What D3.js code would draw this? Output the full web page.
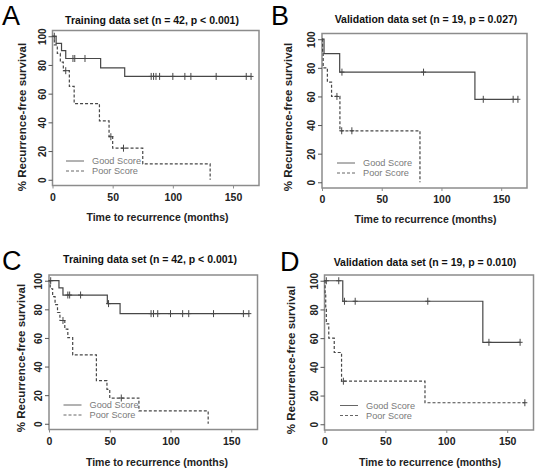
<!DOCTYPE html>
<html><head><meta charset="utf-8">
<script src="https://cdn.jsdelivr.net/npm/d3@7"></script>
<style>body{margin:0;background:#fff} svg{display:block}</style>
</head><body>
<svg id="c" width="535" height="472"></svg>
<script>
// ---------- data ----------
const xTicks = [0, 50, 100, 150];
const yTicks = [0, 20, 40, 60, 80, 100];
const xMaxData = 165;
const panelLetters = ["A", "B", "C", "D"];
const panelTitles = [
  "Training data set (n = 42, p < 0.001)",
  "Validation data set (n = 19, p = 0.027)",
  "Training data set (n = 42, p < 0.001)",
  "Validation data set (n = 19, p = 0.010)"
];
const legendLabels = ["Good Score", "Poor Score"];
const xAxisTitle = "Time to recurrence (months)";
const yAxisTitle = "% Recurrence-free survival";

// Panel A
const aGoodTimes = [3, 7.5, 11, 40, 60];
const aGoodSurv  = [95, 90, 84.5, 78, 72];
const aGoodCens  = [1.5, 17, 18.5, 27, 82, 84, 86, 89, 100, 110, 115, 136, 161, 165];
const aPoorTimes = [1.5, 4, 6.5, 9, 14, 18, 39, 47, 50, 75, 131];
const aPoorSurv  = [94, 88, 82, 76, 65, 53, 41, 30, 22, 11, 0];
const aPoorCens  = [11, 48.5, 59];
// Panel B
const bGoodTimes = [1.7, 14.8, 128];
const bGoodSurv  = [90, 77, 58];
const bGoodCens  = [16.7, 85, 135, 160, 164];
const bPoorTimes = [0.5, 1, 4.5, 8, 15, 82];
const bPoorSurv  = [90, 80, 70, 60, 36, 0];
const bPoorCens  = [12.5, 16.5, 25];
// Panel C
const cGoodTimes = [8.2, 11.5, 48, 58.5];
const cGoodSurv  = [95, 90, 84, 77];
const cGoodCens  = [1.4, 15.5, 17, 26, 49, 84, 86, 89.5, 100, 110, 115, 135.4, 160, 164.5];
const cPoorTimes = [1, 3, 5, 7, 9, 13, 15.5, 19.5, 39, 47.7, 50, 74, 131];
const cPoorSurv  = [94.4, 88.9, 83.3, 77.8, 72.2, 66.2, 60.2, 48.1, 30.1, 24.1, 18, 9, 0];
const cPoorCens  = [11.5, 59.5];
// Panel D
const dGoodTimes = [15, 130];
const dGoodSurv  = [85.7, 57.1];
const dGoodCens  = [1.5, 11.7, 16.4, 25.2, 84.8, 135, 160.6];
const dPoorTimes = [0.5, 1, 1.5, 3.5, 8, 14, 82.5];
const dPoorSurv  = [90, 80, 70, 60, 50, 30, 15];
const dPoorCens  = [15.5, 164.5];

const panelData = [
  {good:[aGoodTimes,aGoodSurv,aGoodCens], poor:[aPoorTimes,aPoorSurv,aPoorCens]},
  {good:[bGoodTimes,bGoodSurv,bGoodCens], poor:[bPoorTimes,bPoorSurv,bPoorCens]},
  {good:[cGoodTimes,cGoodSurv,cGoodCens], poor:[cPoorTimes,cPoorSurv,cPoorCens]},
  {good:[dGoodTimes,dGoodSurv,dGoodCens], poor:[dPoorTimes,dPoorSurv,dPoorCens]}
];

// ---------- layout ----------
const layout = [
  {box:[52.5,259,30.5,185.5], letter:[2,25], title:[152,19.5], xt:[157.5,217], yt:[22,117], leg:[66,161]},
  {box:[322,527,33.5,188], letter:[271,25], title:[426,19], xt:[425.5,219], yt:[288,117], leg:[337,163]},
  {box:[49,257.5,275,429.5], letter:[2,270], title:[150,258.5], xt:[157,461.5], yt:[21,358], leg:[63.5,405]},
  {box:[324.5,533.5,275,430], letter:[280,271], title:[425,262], xt:[430,462], yt:[291,360], leg:[340,405.5]}
];

const FONT = "'Liberation Sans', Arial, Helvetica, sans-serif";
const lineCol = "#474747";
const boxCol = "#8c8c8c";
const svg = d3.select("#c");

function survAt(times, surv, t) {
  let s = 100;
  for (let i = 0; i < times.length; i++) if (times[i] <= t) s = surv[i];
  return s;
}

panelData.forEach((pd, i) => {
  const L = layout[i];
  const [bx0, bx1, by0, by1] = L.box;
  const x = d3.scaleLinear().domain([0, xMaxData * 1.04]).range([bx0, bx1]);
  const y = d3.scaleLinear().domain([-4, 104]).range([by1, by0]);
  const g = svg.append("g");

  // box
  g.append("rect").attr("x", bx0).attr("y", by0).attr("width", bx1 - bx0).attr("height", by1 - by0)
    .attr("fill", "none").attr("stroke", boxCol).attr("stroke-width", 1.5);

  // x axis
  const xa = g.append("g").attr("transform", `translate(0,${by1})`)
    .call(d3.axisBottom(x).tickValues(xTicks).tickSize(3).tickPadding(5).tickFormat(d3.format("d")));
  xa.select(".domain").remove();
  xa.selectAll("line").attr("stroke", boxCol);
  xa.selectAll("text").attr("font-family", FONT).attr("font-size", 10.5).attr("font-weight", "bold").attr("fill", "#222");

  // y axis
  const ya = g.append("g").attr("transform", `translate(${bx0},0)`)
    .call(d3.axisLeft(y).tickValues(yTicks).tickSize(4).tickPadding(0).tickFormat(d3.format("d")));
  ya.select(".domain").remove();
  ya.selectAll("line").attr("stroke", "#555");
  ya.selectAll("text").attr("font-family", FONT).attr("font-size", 10).attr("font-weight", "bold").attr("fill", "#222")
    .attr("text-anchor", "middle").attr("dy", null).attr("x", null)
    .attr("transform", "translate(-10.5,0) rotate(-90)").attr("dominant-baseline", "central");

  // curves
  [["good", null], ["poor", "3,2"]].forEach(([key, dash]) => {
    const [times, surv, cens] = pd[key];
    const lastEvt = times[times.length - 1];
    const endT = Math.max(lastEvt, d3.max(cens));
    const pts = [[0, 100]];
    times.forEach((t, k) => pts.push([t, surv[k]]));
    if (surv[surv.length - 1] > 0 && endT > lastEvt) pts.push([endT, surv[surv.length - 1]]);
    const line = d3.line().x(d => x(d[0])).y(d => y(d[1])).curve(d3.curveStepAfter);
    g.append("path").attr("d", line(pts)).attr("fill", "none").attr("stroke", lineCol)
      .attr("stroke-width", 1.2).attr("stroke-dasharray", dash);
    cens.forEach(t => {
      const cx = x(t), cy = y(survAt(times, surv, t));
      g.append("path").attr("d", `M${cx},${cy - 3.5}V${cy + 3.5}M${cx - 2.5},${cy}H${cx + 2.5}`)
        .attr("stroke", lineCol).attr("stroke-width", 1).attr("fill", "none");
    });
  });

  // legend
  legendLabels.forEach((lab, k) => {
    const ly = L.leg[1] + k * 10;
    g.append("line").attr("x1", L.leg[0]).attr("x2", L.leg[0] + 18).attr("y1", ly).attr("y2", ly)
      .attr("stroke", "#666").attr("stroke-width", 1).attr("stroke-dasharray", k ? "3,2" : null);
    g.append("text").attr("x", L.leg[0] + 26).attr("y", ly).attr("dominant-baseline", "central")
      .attr("font-family", FONT).attr("font-size", 9.2).attr("fill", "#7a7a7a").text(lab);
  });

  // titles
  g.append("text").attr("x", L.title[0]).attr("y", L.title[1]).attr("text-anchor", "middle")
    .attr("dominant-baseline", "central").attr("font-family", FONT).attr("font-size", 10.5)
    .attr("font-weight", "bold").attr("fill", "#111").text(panelTitles[i]);
  g.append("text").attr("x", L.xt[0]).attr("y", L.xt[1]).attr("text-anchor", "middle")
    .attr("dominant-baseline", "central").attr("font-family", FONT).attr("font-size", 10.5)
    .attr("font-weight", "bold").attr("fill", "#222").text(xAxisTitle);
  g.append("text").attr("transform", `translate(${L.yt[0]},${L.yt[1]}) rotate(-90)`)
    .attr("text-anchor", "middle").attr("dominant-baseline", "central").attr("font-family", FONT)
    .attr("font-size", 11.5).attr("font-weight", "bold").attr("fill", "#222").text(yAxisTitle);
  g.append("text").attr("x", L.letter[0]).attr("y", L.letter[1]).attr("font-family", FONT)
    .attr("font-size", 27).attr("fill", "#000").text(panelLetters[i]);
});
</script>
</body></html>
